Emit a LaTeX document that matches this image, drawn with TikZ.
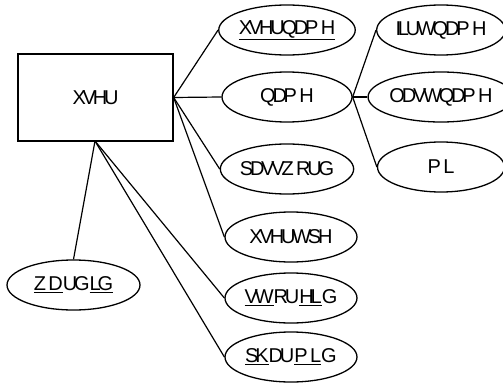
\documentclass[tikz,border=0pt]{standalone}
\usepackage{fontspec}
\setmainfont{Liberation Sans}[LetterSpace=-16]
\usetikzlibrary{shapes.geometric}
\tikzset{
  attr/.style={draw, ellipse, line width=1.3pt, minimum width=130pt, minimum height=50pt, inner sep=0pt, font=\fontsize{20}{22}\selectfont},
  ent/.style={draw, rectangle, line width=1.3pt, minimum width=155pt, minimum height=87pt, inner sep=0pt, font=\fontsize{20}{22}\selectfont},
  conn/.style={line width=1.2pt}
}
\begin{document}
\begin{tikzpicture}[x=1pt,y=-1pt]
\useasboundingbox (0,0) rectangle (503,385);
\node[ent] (user) at (95.5,97.5) {XVHU};
\node[attr] (uname) at (287,30) {\underline{XVHUQDP H}};
\node[attr] (name) at (287,97) {QDP H};
\node[attr] (pass) at (287,169) {SDVVZ RUG};
\node[attr, minimum width=132pt] (utype) at (291,237) {XVHUWSH};
\node[attr, minimum width=132pt] (store) at (291,298) {\underline{VW}RU\underline{HL}G};
\node[attr, minimum width=132pt] (pharm) at (291,357) {\underline{SK}DU\underline{P L}G};
\node[attr, minimum width=133pt] (ward) at (73.5,285) {\underline{Z D}UG\underline{LG}};
\node[attr, minimum width=127pt] (first) at (441,30) {ILUWQDP H};
\node[attr, minimum width=127pt] (last) at (441,97) {ODVWQDP H};
\node[attr, minimum width=127pt] (mi) at (441,167) {P L};
\coordinate (r) at (user.east);
\coordinate (b) at (95,141);
\draw[conn] (r) -- (uname.west);
\draw[conn] (r) -- (name.west);
\draw[conn] (r) -- (pass.west);
\draw[conn] (r) -- (utype.west);
\draw[conn] (b) -- (ward.north);
\draw[conn] (b) -- (store.west);
\draw[conn] (b) -- (pharm.west);
\draw[conn] (name.east) -- (first.west);
\draw[conn] (name.east) -- (last.west);
\draw[conn] (name.east) -- (mi.west);
\end{tikzpicture}
\end{document}
